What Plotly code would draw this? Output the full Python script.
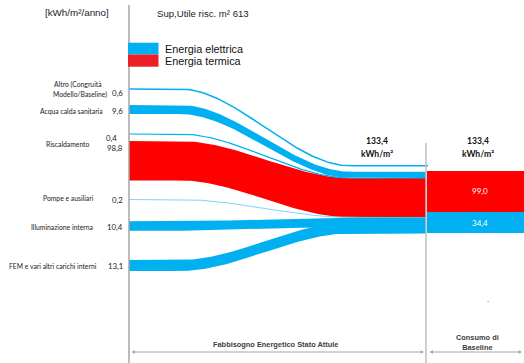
import numpy as np
import plotly.graph_objects as go

# ---------------- DATA ----------------
usi = ["Altro (Congruità<br>Modello/Baseline)", "Acqua calda sanitaria", "Riscaldamento",
       "Pompe e ausiliari", "Illuminazione interna", "FEM e vari altri carichi interni"]
energia_elettrica = [0.6, 9.6, 0.4, 0.2, 10.4, 13.1]
energia_termica = [0.0, 0.0, 98.8, 0.0, 0.0, 0.0]
baseline_nomi = ["Energia termica", "Energia elettrica"]
baseline_valori = [99.0, 34.4]
totale_attuale = 133.4
totale_baseline = 133.4
superficie = 613

# ---------------- STYLE / LAYOUT ----------------
BLUE = "#00B0F0"
LBLUE = "#6FCFF3"
RED = "#FF0000"
GRAY = "#A6A6A6"
CAL = "Lato"
ARI = "Liberation Sans"
W, H = 524, 363


def thick(v):
    return 2.145 * v ** 0.634


def fmt(v):
    return f"{v:.1f}".replace(".", ",")


x_start, x_end = 129, 426
cx0, cx1 = 180, 350
xs = np.linspace(x_start, x_end, 160)
u = np.clip((xs - cx0) / (cx1 - cx0), 0, 1)
s = u * u * (3 - 2 * u)

# start centres of electric flows (rows), top of thermal flow
y_start_el = [89, 109.5, 134, 199.5, 226, 265.5]
y_start_th_top = 141
red_end_top = 178
baseline_top = 170.7

fig = go.Figure()


def band(y0, y1, t0, t1, color):
    c = y0 + (y1 - y0) * s
    t = t0 + (t1 - t0) * s
    top = c - t / 2
    bot = c + t / 2
    fig.add_trace(go.Scatter(x=np.concatenate([xs, xs[::-1]]),
                             y=np.concatenate([top, bot[::-1]]),
                             fill="toself", fillcolor=color, mode="lines",
                             line=dict(width=0), hoverinfo="skip", showlegend=False))


def line(y0, y1, w, color, xe=x_end):
    xx = np.append(xs, xe)
    c = y0 + (y1 - y0) * s
    c = np.append(c, c[-1])
    fig.add_trace(go.Scatter(x=xx, y=c, mode="lines", line=dict(color=color, width=w),
                             hoverinfo="skip", showlegend=False))


# thermal flow (Riscaldamento)
t_th = thick(energia_termica[2])
band(y_start_th_top + t_th / 2, red_end_top + t_th / 2, t_th, t_th, RED)
red_end_bot = red_end_top + t_th

# electric flows: end positions by stacking
t_el = [thick(v) for v in energia_elettrica]
acs_end_t = t_el[1] * 0.7
acs_end_c = red_end_top - acs_end_t / 2
altro_end_c = red_end_top - acs_end_t - 6
group_top = red_end_bot
group_t = thick(sum(energia_elettrica[3:]))
group_bot = group_top + group_t
end_c = [altro_end_c, acs_end_c, red_end_top, group_top,
         group_top + t_el[4] / 2, group_bot - t_el[5] / 2]
end_t = [t_el[0], acs_end_t, t_el[2], t_el[3], t_el[4], t_el[5]]

for i, v in enumerate(energia_elettrica):
    if v < 1:
        col = LBLUE if i == 3 else BLUE
        line(y_start_el[i], end_c[i], max(t_el[i], 0.9), col, xe=428 if i == 0 else x_end)
    else:
        band(y_start_el[i], end_c[i], t_el[i], end_t[i], BLUE)

# baseline stacked bars
bx = (427 + W) / 2
base = baseline_top
bar_cols = [RED, BLUE]
centres = []
for nm, v, col in zip(baseline_nomi, baseline_valori, bar_cols):
    tv = thick(v) * 1.05
    fig.add_trace(go.Bar(x=[bx], y=[tv], base=[base], width=[W - 427], marker_color=col,
                         marker_line_width=0, hoverinfo="skip", showlegend=False, name=nm))
    centres.append(base + tv / 2)
    base += tv

ann = []
for v, c in zip(baseline_valori, centres):
    ann.append(dict(x=480, y=c, text=fmt(v), showarrow=False,
                    font=dict(family=CAL, size=8, color="white")))

# left labels
name_y = [89, 111, 144, 198, 227, 266]
name_xr = [107, 105, 92, 96, 95, 99]
for nm, y, xr in zip(usi, name_y, name_xr):
    if "<br>" in nm:
        l1, l2 = nm.split("<br>")
        ann.append(dict(x=78, y=y - 5, text=l1, showarrow=False, xanchor="center",
                        font=dict(family=CAL, size=6.8, color="#222222")))
        ann.append(dict(x=80, y=y + 5.5, text=l2, showarrow=False, xanchor="center",
                        font=dict(family=CAL, size=6.8, color="#222222")))
    else:
        ann.append(dict(x=xr, y=y, text=nm, showarrow=False, xanchor="right",
                        font=dict(family=CAL, size=6.8, color="#222222")))
val_y = [93, 111, 138, 200, 227, 266]
for v, y, i in zip(energia_elettrica, val_y, range(6)):
    ann.append(dict(x=119 if i == 2 else 125, y=y, text=fmt(v), showarrow=False,
                    xanchor="right", font=dict(family=CAL, size=7.8, color="#222222")))
ann.append(dict(x=125, y=148, text=fmt(energia_termica[2]), showarrow=False, xanchor="right",
                font=dict(family=CAL, size=7.8, color="#222222")))

# totals
for xv, tot in [(377, totale_attuale), (478, totale_baseline)]:
    ann.append(dict(x=xv, y=141, text="<b>" + fmt(tot) + "</b>", showarrow=False,
                    font=dict(family=CAL, size=8.6, color="#111111")))
    ann.append(dict(x=xv, y=153.5, text="<b>kWh/m²</b>", showarrow=False,
                    font=dict(family=CAL, size=8.6, color="#111111")))

# titles / legend text
ann.append(dict(x=111, y=12.5, text="[kWh/m²/anno]", showarrow=False, xanchor="right",
                font=dict(family=ARI, size=9.8, color="#222222")))
ann.append(dict(x=155, y=13.5, text=f"Sup,Utile risc. m² {superficie}", showarrow=False,
                xanchor="left", font=dict(family=ARI, size=9.6, color="#222222")))
ann.append(dict(x=163, y=48.5, text="Energia elettrica", showarrow=False, xanchor="left",
                font=dict(family=ARI, size=10.8, color="#111111")))
ann.append(dict(x=163, y=60.5, text="Energia termica", showarrow=False, xanchor="left",
                font=dict(family=ARI, size=10.8, color="#111111")))

# bottom labels & arrows
ann.append(dict(x=275, y=344, text="<b>Fabbisogno Energetico Stato Attule</b>", showarrow=False,
                font=dict(family=ARI, size=7.4, color="#404040")))
ann.append(dict(x=477, y=342.5, text="<b>Consumo di<br>Baseline</b>", showarrow=False,
                font=dict(family=ARI, size=7.4, color="#404040")))
ann.append(dict(x=488, y=300, text="-", showarrow=False,
                font=dict(family=ARI, size=7, color="#808080")))
for xa, xb in [(130, 424), (428, 522)]:
    ann.append(dict(x=xb, y=352, ax=xa, ay=352, xref="x", yref="y", axref="x", ayref="y",
                    text="", showarrow=True, arrowside="end+start", arrowhead=2,
                    arrowsize=0.7, arrowwidth=1, arrowcolor=GRAY, standoff=0, startstandoff=0))

shapes = [
    dict(type="line", x0=129, x1=129, y0=5, y1=H, line=dict(color=GRAY, width=1.5), layer="above"),
    dict(type="line", x0=426, x1=426, y0=143, y1=H, line=dict(color="#BFBFBF", width=1.5), layer="above"),
    dict(type="rect", x0=128, x1=158.5, y0=42.7, y1=54.5, fillcolor=BLUE, line=dict(width=0)),
    dict(type="rect", x0=128, x1=158.5, y0=54.5, y1=66.7, fillcolor="#EE1F24", line=dict(width=0)),
]

fig.update_layout(
    width=W, height=H, margin=dict(l=0, r=0, t=0, b=0),
    paper_bgcolor="white", plot_bgcolor="white",
    xaxis=dict(range=[0, W], visible=False, fixedrange=True),
    yaxis=dict(range=[H, 0], visible=False, fixedrange=True),
    barmode="overlay", bargap=0,
    annotations=ann, shapes=shapes, showlegend=False,
)

fig.write_html("out.html")
